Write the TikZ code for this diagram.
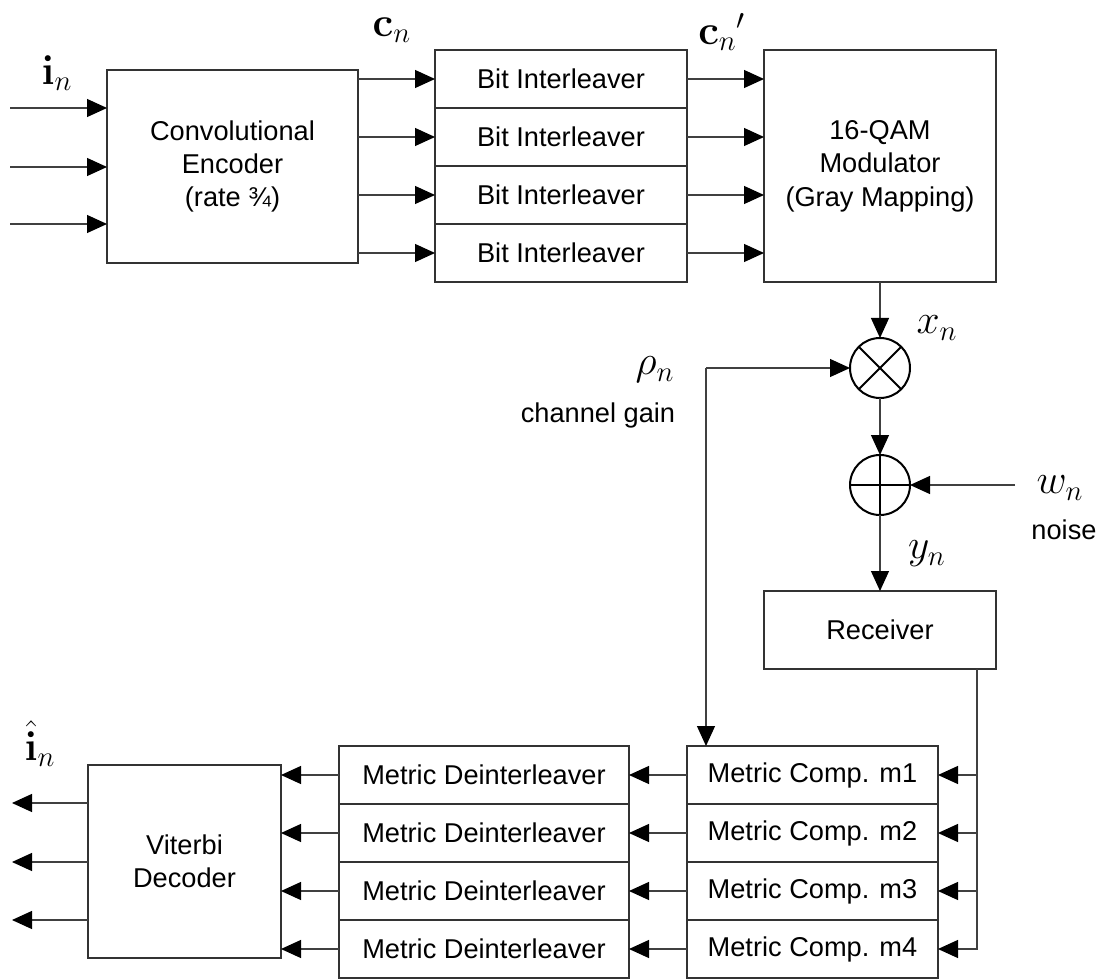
\documentclass[tikz,border=0pt]{standalone}
\usepackage[no-math]{fontspec}
\setmainfont{Liberation Sans}
\usepackage{amsmath,amssymb,bm}
\usetikzlibrary{arrows.meta,calc,positioning}
\tikzset{
    myblock/.style={draw=black!80,line width=0.6pt,fill=white,inner sep=0pt,outer sep=0pt,align=center,
        font=\fontsize{13.6}{16.7}\selectfont},
    myrow/.style={myblock,minimum height=29pt},
    mycirc/.style={circle,draw=black,line width=1pt,minimum size=30pt,inner sep=0pt,outer sep=0pt},
    myline/.style={draw=black!75,line width=0.6pt},
    myarrow/.style={myline,-{Triangle[length=10pt,width=9pt,color=black]}},
    mylabel/.style={inner sep=0pt,font=\fontsize{22}{24}\selectfont},
    mytext/.style={inner sep=0pt,font=\fontsize{13.6}{16.7}\selectfont}
}
\begin{document}
\begin{tikzpicture}[x=0.5pt,y=-0.5pt]
    \useasboundingbox (0,0) rectangle (1105,979);

    % 发送端
    \node[myblock,minimum width=125.5pt,minimum height=96.5pt] (enc) at (232.5,166.5)
        {Convolutional\\Encoder\\(rate ¾)};
    \node[myrow,minimum width=126pt] (bi1) at (561,79) {Bit Interleaver};
    \node[myrow,minimum width=126pt] (bi2) at (561,137) {Bit Interleaver};
    \node[myrow,minimum width=126pt] (bi3) at (561,195) {Bit Interleaver};
    \node[myrow,minimum width=126pt] (bi4) at (561,253) {Bit Interleaver};
    \node[myblock,minimum width=116pt,minimum height=116pt] (mod) at (880,166)
        {16-QAM\\Modulator\\(Gray Mapping)};

    % 信道
    \node[mycirc] (mul) at (880,368) {};
    \draw[line width=1pt] (mul.north west) -- (mul.south east)
        (mul.north east) -- (mul.south west);
    \node[mycirc] (add) at (880,485) {};
    \draw[line width=1pt] (add.north) -- (add.south)
        (add.west) -- (add.east);

    % 接收端
    \node[myblock,minimum width=116pt,minimum height=39pt] (rec) at (880,630) {Receiver};
    \node[myrow,minimum width=125.5pt] (mc1) at (812.5,775) {Metric Comp. m1};
    \node[myrow,minimum width=125.5pt] (mc2) at (812.5,833) {Metric Comp. m2};
    \node[myrow,minimum width=125.5pt] (mc3) at (812.5,891) {Metric Comp. m3};
    \node[myrow,minimum width=125.5pt] (mc4) at (812.5,949) {Metric Comp. m4};
    \node[myrow,minimum width=145pt] (md1) at (484,775) {Metric Deinterleaver};
    \node[myrow,minimum width=145pt] (md2) at (484,833) {Metric Deinterleaver};
    \node[myrow,minimum width=145pt] (md3) at (484,891) {Metric Deinterleaver};
    \node[myrow,minimum width=145pt] (md4) at (484,949) {Metric Deinterleaver};
    \node[myblock,minimum width=96.5pt,minimum height=96.5pt] (vit) at (184.5,861.5)
        {Viterbi\\Decoder};

    % 端点
    \coordinate (in1) at (10,108);
    \coordinate (in2) at (10,167);
    \coordinate (in3) at (10,224);
    \coordinate (wn) at (1015,485);
    \coordinate (rho) at (706,368);
    \coordinate (rxo) at (977,669);
    \coordinate (out1) at (12,803);
    \coordinate (out2) at (12,862);
    \coordinate (out3) at (12,920);

    % 连线
    \draw[myarrow] (in1) -- (in1 -| enc.west);
    \draw[myarrow] (in2) -- (in2 -| enc.west);
    \draw[myarrow] (in3) -- (in3 -| enc.west);
    \draw[myarrow] (bi1.west -| enc.east) -- (bi1.west);
    \draw[myarrow] (bi2.west -| enc.east) -- (bi2.west);
    \draw[myarrow] (bi3.west -| enc.east) -- (bi3.west);
    \draw[myarrow] (bi4.west -| enc.east) -- (bi4.west);
    \draw[myarrow] (bi1.east) -- (bi1.east -| mod.west);
    \draw[myarrow] (bi2.east) -- (bi2.east -| mod.west);
    \draw[myarrow] (bi3.east) -- (bi3.east -| mod.west);
    \draw[myarrow] (bi4.east) -- (bi4.east -| mod.west);
    \draw[myarrow] (mod.south) -- (mul.north);
    \draw[myarrow] (mul.south) -- (add.north);
    \draw[myarrow] (wn) -- (add.east);
    \draw[myarrow] (add.south) -- (rec.north);
    \draw[myarrow] (rho) -- (mul.west);
    \draw[myarrow] (rho) -- (rho |- mc1.north);
    \draw[myarrow] (rxo) |- (mc4.east);
    \draw[myarrow] (rxo |- mc1.east) -- (mc1.east);
    \draw[myarrow] (rxo |- mc2.east) -- (mc2.east);
    \draw[myarrow] (rxo |- mc3.east) -- (mc3.east);
    \draw[myarrow] (mc1.west) -- (md1.east);
    \draw[myarrow] (mc2.west) -- (md2.east);
    \draw[myarrow] (mc3.west) -- (md3.east);
    \draw[myarrow] (mc4.west) -- (md4.east);
    \draw[myarrow] (md1.west) -- (md1.west -| vit.east);
    \draw[myarrow] (md2.west) -- (md2.west -| vit.east);
    \draw[myarrow] (md3.west) -- (md3.west -| vit.east);
    \draw[myarrow] (md4.west) -- (md4.west -| vit.east);
    \draw[myarrow] (out1 -| vit.west) -- (out1);
    \draw[myarrow] (out2 -| vit.west) -- (out2);
    \draw[myarrow] (out3 -| vit.west) -- (out3);

    % 标注
    \node[mylabel] (lin) at (57,73) {$\mathbf{i}_n$};
    \node[mylabel] (lcn) at (392,30) {$\mathbf{c}_n$};
    \node[mylabel] (lcp) at (722,32) {$\mathbf{c}_n{}^{\prime}$};
    \node[mylabel] (lxn) at (937,328) {$x_n$};
    \node[mylabel] (lrho) at (655,370) {$\rho_n$};
    \node[mytext] (lgain) at (598,415) {channel gain};
    \node[mylabel] (lwn) at (1060,488) {$w_n$};
    \node[mytext] (lnoise) at (1064,530) {noise};
    \node[mylabel] (lyn) at (927,554) {$y_n$};
    \node[mylabel] (lih) at (40,744) {$\hat{\mathbf{i}}_n$};
\end{tikzpicture}
\end{document}
